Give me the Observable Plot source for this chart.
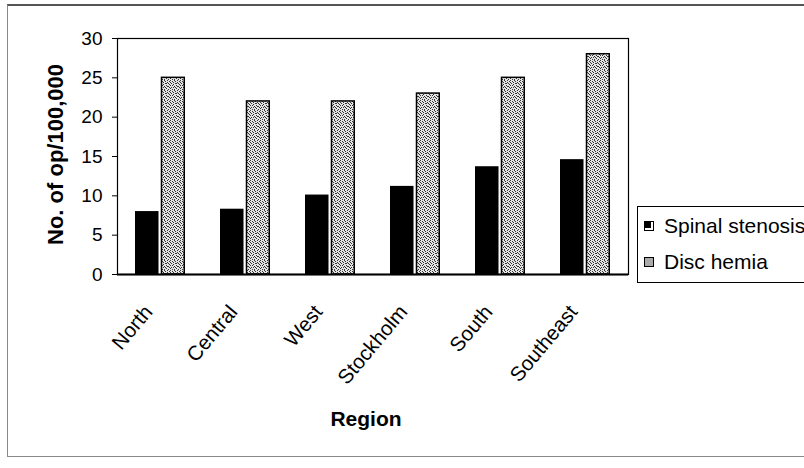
<!DOCTYPE html>
<html>
<head>
<meta charset="utf-8">
<script src="https://cdn.jsdelivr.net/npm/d3@7"></script>
<script src="https://cdn.jsdelivr.net/npm/@observablehq/plot@0.6"></script>
<style>
  html, body { margin: 0; padding: 0; background: #fff; overflow: hidden; }
  #wrap { position: relative; width: 804px; height: 468px; overflow: hidden; font-family: "Liberation Sans", Arial, sans-serif; }
  #border { position: absolute; left: 7px; top: 4px; width: 830px; height: 453px; border: 1px solid #8a8a8a; border-top: 2px solid #555; box-sizing: border-box; }
  #chart { position: absolute; left: 0; top: 0; }
  #legend { position: absolute; left: 637px; top: 206px; width: 190px; height: 77px; border: 1px solid #000; box-sizing: border-box; background: #fff; font-size: 21px; color: #000; }
  .item { position: absolute; left: 6px; display: flex; align-items: center; white-space: nowrap; line-height: 24px; }
  .sw { width: 10px; height: 10px; margin-right: 10px; box-sizing: border-box; }
</style>
</head>
<body>
<div id="wrap">
  <div id="border"></div>
  <div id="chart"></div>
  <div id="legend"></div>
</div>
<script>
const regions = ["North", "Central", "West", "Stockholm", "South", "Southeast"];
const spinalStenosis = [8, 8.3, 10.1, 11.2, 13.7, 14.6];
const discHernia = [25, 22, 22, 23, 25, 28];
const yTicks = [0, 5, 10, 15, 20, 25, 30];
const seriesNames = ["Spinal stenosis", "Disc hemia"];
const yLabel = "No. of op/100,000";
const xLabel = "Region";

const spinalData = regions.map((r, i) => ({region: r, value: spinalStenosis[i]}));
const discData = regions.map((r, i) => ({region: r, value: discHernia[i]}));

const font = "Liberation Sans, Arial, sans-serif";

const plot = Plot.plot({
  width: 804,
  height: 468,
  marginLeft: 117,
  marginRight: 176,
  marginTop: 38,
  marginBottom: 194,
  style: {fontFamily: font, fontSize: "19px", color: "#000", background: "transparent", overflow: "visible"},
  x: {domain: regions, paddingInner: 0.41, paddingOuter: 0.205, label: null, axis: null},
  y: {domain: [0, 30], label: null},
  marks: [
    Plot.frame({stroke: "#000", strokeWidth: 1.2}),
    Plot.barY(spinalData, {x: "region", y: "value", fill: "#000", insetRight: 26.5}),
    Plot.barY(discData, {x: "region", y: "value", fill: "url(#stipple)", stroke: "#000", strokeWidth: 1.5, insetLeft: 26.5, insetRight: 0.75}),
    Plot.ruleY([0], {stroke: "#000", strokeWidth: 2}),
    Plot.axisY({ticks: yTicks, tickSize: 5, tickPadding: 10, fontSize: 19, label: null}),
    Plot.text(regions, {x: d => d, frameAnchor: "bottom", rotate: -50, textAnchor: "end", lineAnchor: "bottom", dx: -7, dy: 38, fontSize: 20.5}),
    Plot.text([yLabel], {frameAnchor: "left", rotate: -90, textAnchor: "middle", lineAnchor: "middle", dx: -62, dy: -2, fontWeight: "bold", fontSize: 22}),
    Plot.text([xLabel], {frameAnchor: "bottom", textAnchor: "middle", lineAnchor: "bottom", dx: -7, dy: 151, fontWeight: "bold", fontSize: 21})
  ]
});

// stipple pattern definition (visual texture only)
const svgNS = "http://www.w3.org/2000/svg";
const defs = document.createElementNS(svgNS, "defs");
const pat = document.createElementNS(svgNS, "pattern");
pat.setAttribute("id", "stipple");
pat.setAttribute("width", "10");
pat.setAttribute("height", "10");
pat.setAttribute("patternUnits", "userSpaceOnUse");
const bg = document.createElementNS(svgNS, "rect");
bg.setAttribute("width", "10"); bg.setAttribute("height", "10"); bg.setAttribute("fill", "#e4e4e4");
pat.appendChild(bg);
const dots = [[0,0],[4,0],[7,0],[2,1],[5,1],[9,1],[0,2],[3,2],[7,2],[1,3],[5,3],[6,3],[8,3],[3,4],[9,4],[0,5],[2,5],[6,5],[4,6],[7,6],[8,6],[1,7],[3,7],[5,7],[9,7],[0,8],[6,8],[2,9],[4,9],[8,9]];
for (const [dx, dy] of dots) {
  const d = document.createElementNS(svgNS, "rect");
  d.setAttribute("x", dx); d.setAttribute("y", dy); d.setAttribute("width", "1"); d.setAttribute("height", "1");
  d.setAttribute("fill", "#333");
  pat.appendChild(d);
}
defs.appendChild(pat);
plot.insertBefore(defs, plot.firstChild);

document.getElementById("chart").appendChild(plot);

// legend
const legend = document.getElementById("legend");
const swStyles = [
  "background:#000; border:1px solid #000; box-shadow: inset -2px -2px 0 #fff;",
  "background:#aaa; border:1px solid #000;"
];
seriesNames.forEach((name, i) => {
  const it = document.createElement("div");
  it.className = "item";
  it.style.top = (i === 0 ? 7 : 43) + "px";
  it.innerHTML = `<div class="sw" style="${swStyles[i]}"></div><span>${name}</span>`;
  legend.appendChild(it);
});
</script>
</body>
</html>
